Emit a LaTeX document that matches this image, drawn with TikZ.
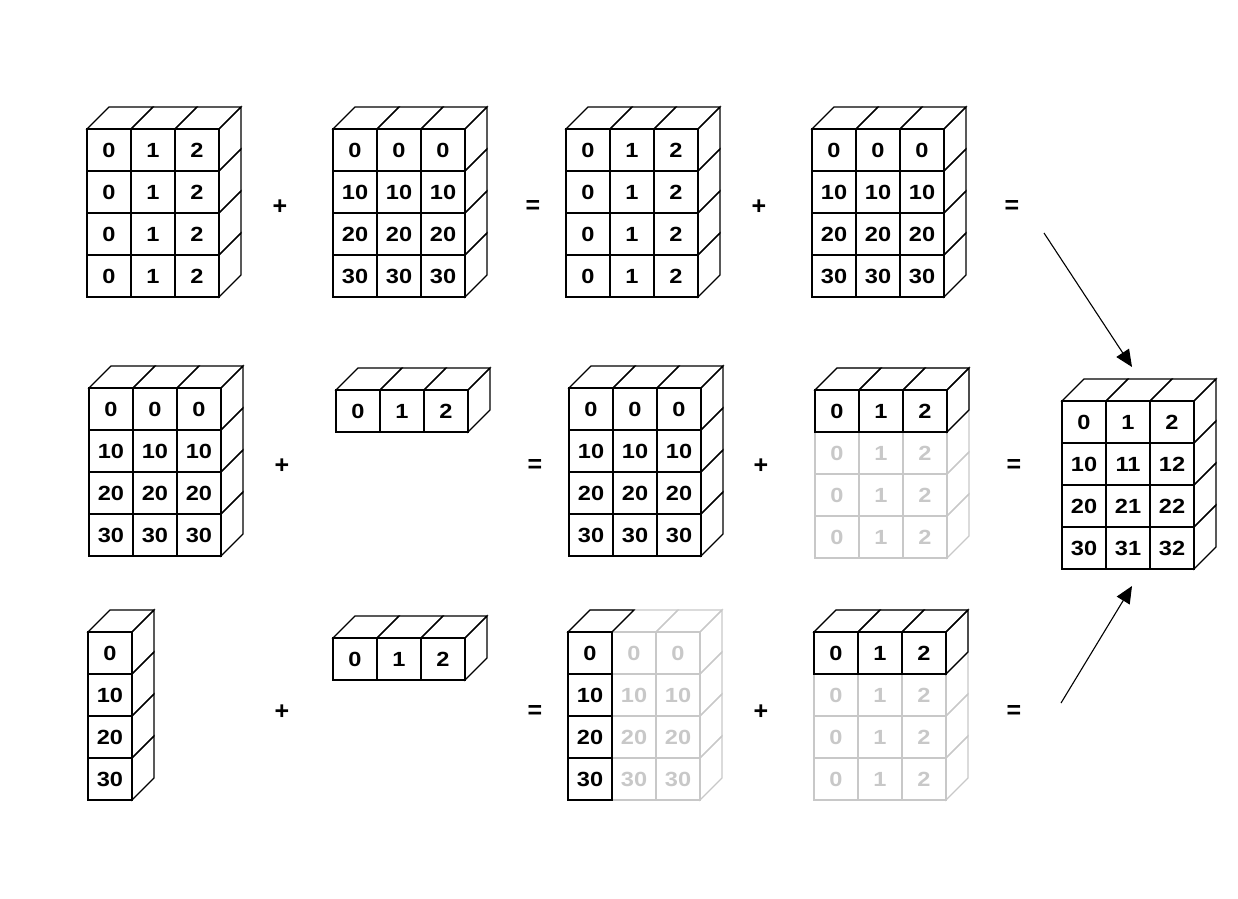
\documentclass[tikz,border=0pt]{standalone}
\usepackage{fontspec}
\setmainfont{Liberation Sans}
\newfontfamily\digitfont[FakeStretch=1.15]{Liberation Sans}
\usetikzlibrary{arrows.meta}
\definecolor{faint}{RGB}{200,200,200}
\tikzset{
  edge/.style={line width=1.2pt, line join=miter, black},
  faintedge/.style={line width=1.2pt, line join=miter, faint},
  lbl/.style={font=\digitfont\fontsize{20.5}{20.5}\selectfont\bfseries, inner sep=0pt, text=black},
  faintlbl/.style={lbl, text=faint},
  op/.style={font=\fontsize{25}{25}\selectfont\bfseries, inner sep=0pt},
  arr/.style={line width=1.1pt, -{Triangle[length=17pt,width=15pt]}}
}
% \blockdraw{X}{Y}{ncols}{nrows}{style}{top?}{right?}
\newcommand\blockdraw[7]{%
  \foreach \i in {1,...,#3}{\foreach \j in {1,...,#4}{%
    \draw[#5] ({#1+44*(\i-1)},{#2+42*(\j-1)}) rectangle ++(44,42);}}%
  \ifnum#6=1
  \foreach \i in {1,...,#3}{%
    \draw[#5] ({#1+44*(\i-1)},#2) -- ++(22,-22) -- ++(44,0) -- ++(-22,22) -- cycle;}%
  \fi
  \ifnum#7=1
  \foreach \j in {1,...,#4}{%
    \draw[#5] ({#1+44*#3},{#2+42*(\j-1)}) -- ++(22,-22) -- ++(0,42) -- ++(-22,22) -- cycle;}%
  \fi
}
% \rowlab{name}{X}{Y}{row}{style}{list}
\newcommand\rowlab[6]{%
  \foreach \t [count=\c] in {#6}{%
    \node[#5] (#1-#4-\c) at ({#2+44*\c-22},{#3+42*#4+21}) {\t};}%
}
% \collab{name}{X}{Y}{col}{style}{list}
\newcommand\collab[6]{%
  \foreach \t [count=\r] in {#6}{%
    \node[#5] (#1-\r-#4) at ({#2+44*#4+22},{#3+42*(\r-1)+21}) {\t};}%
}
\begin{document}
\begin{tikzpicture}[x=1pt,y=-1pt]
\useasboundingbox (0,0) rectangle (1238,898);
% ---------- row 1 ----------
\blockdraw{87}{129}{3}{4}{edge}{1}{1}
\foreach \r in {0,...,3}{\rowlab{A1}{87}{129}{\r}{lbl}{0,1,2}}
\blockdraw{333}{129}{3}{4}{edge}{1}{1}
\rowlab{A2}{333}{129}{0}{lbl}{0,0,0}
\rowlab{A2}{333}{129}{1}{lbl}{10,10,10}
\rowlab{A2}{333}{129}{2}{lbl}{20,20,20}
\rowlab{A2}{333}{129}{3}{lbl}{30,30,30}
\blockdraw{566}{129}{3}{4}{edge}{1}{1}
\foreach \r in {0,...,3}{\rowlab{A3}{566}{129}{\r}{lbl}{0,1,2}}
\blockdraw{812}{129}{3}{4}{edge}{1}{1}
\rowlab{A4}{812}{129}{0}{lbl}{0,0,0}
\rowlab{A4}{812}{129}{1}{lbl}{10,10,10}
\rowlab{A4}{812}{129}{2}{lbl}{20,20,20}
\rowlab{A4}{812}{129}{3}{lbl}{30,30,30}
\node[op] (p1) at (280,207) {+};
\node[op] (q1) at (533,207) {=};
\node[op] (p2) at (759,207) {+};
\node[op] (q2) at (1012,207) {=};
% ---------- row 2 ----------
\blockdraw{89}{388}{3}{4}{edge}{1}{1}
\rowlab{B1}{89}{388}{0}{lbl}{0,0,0}
\rowlab{B1}{89}{388}{1}{lbl}{10,10,10}
\rowlab{B1}{89}{388}{2}{lbl}{20,20,20}
\rowlab{B1}{89}{388}{3}{lbl}{30,30,30}
\blockdraw{336}{390}{3}{1}{edge}{1}{1}
\rowlab{B2}{336}{390}{0}{lbl}{0,1,2}
\blockdraw{569}{388}{3}{4}{edge}{1}{1}
\rowlab{B3}{569}{388}{0}{lbl}{0,0,0}
\rowlab{B3}{569}{388}{1}{lbl}{10,10,10}
\rowlab{B3}{569}{388}{2}{lbl}{20,20,20}
\rowlab{B3}{569}{388}{3}{lbl}{30,30,30}
\blockdraw{815}{390}{3}{4}{faintedge}{1}{1}
\foreach \r in {1,...,3}{\rowlab{B4}{815}{390}{\r}{faintlbl}{0,1,2}}
\blockdraw{815}{390}{3}{1}{edge}{1}{1}
\rowlab{B4}{815}{390}{0}{lbl}{0,1,2}
\node[op] (p3) at (282,466) {+};
\node[op] (q3) at (535,466) {=};
\node[op] (p4) at (761,466) {+};
\node[op] (q4) at (1014,466) {=};
% ---------- row 3 ----------
\blockdraw{88}{632}{1}{4}{edge}{1}{1}
\collab{C1}{88}{632}{0}{lbl}{0,10,20,30}
\blockdraw{333}{638}{3}{1}{edge}{1}{1}
\rowlab{C2}{333}{638}{0}{lbl}{0,1,2}
\blockdraw{568}{632}{3}{4}{faintedge}{1}{1}
\collab{C3}{568}{632}{1}{faintlbl}{0,10,20,30}
\collab{C3}{568}{632}{2}{faintlbl}{0,10,20,30}
\blockdraw{568}{632}{1}{4}{edge}{1}{0}
\collab{C3}{568}{632}{0}{lbl}{0,10,20,30}
\blockdraw{814}{632}{3}{4}{faintedge}{1}{1}
\foreach \r in {1,...,3}{\rowlab{C4}{814}{632}{\r}{faintlbl}{0,1,2}}
\blockdraw{814}{632}{3}{1}{edge}{1}{1}
\rowlab{C4}{814}{632}{0}{lbl}{0,1,2}
\node[op] (p5) at (282,712) {+};
\node[op] (q5) at (535,712) {=};
\node[op] (p6) at (761,712) {+};
\node[op] (q6) at (1014,712) {=};
% ---------- result ----------
\blockdraw{1062}{401}{3}{4}{edge}{1}{1}
\rowlab{R}{1062}{401}{0}{lbl}{0,1,2}
\rowlab{R}{1062}{401}{1}{lbl}{10,11,12}
\rowlab{R}{1062}{401}{2}{lbl}{20,21,22}
\rowlab{R}{1062}{401}{3}{lbl}{30,31,32}
% ---------- arrows ----------
\coordinate (s1) at (1044,233);
\coordinate (e1) at (1132,367);
\coordinate (s2) at (1061,703);
\coordinate (e2) at (1132,586);
\draw[arr] (s1) -- (e1);
\draw[arr] (s2) -- (e2);
\end{tikzpicture}
\end{document}
